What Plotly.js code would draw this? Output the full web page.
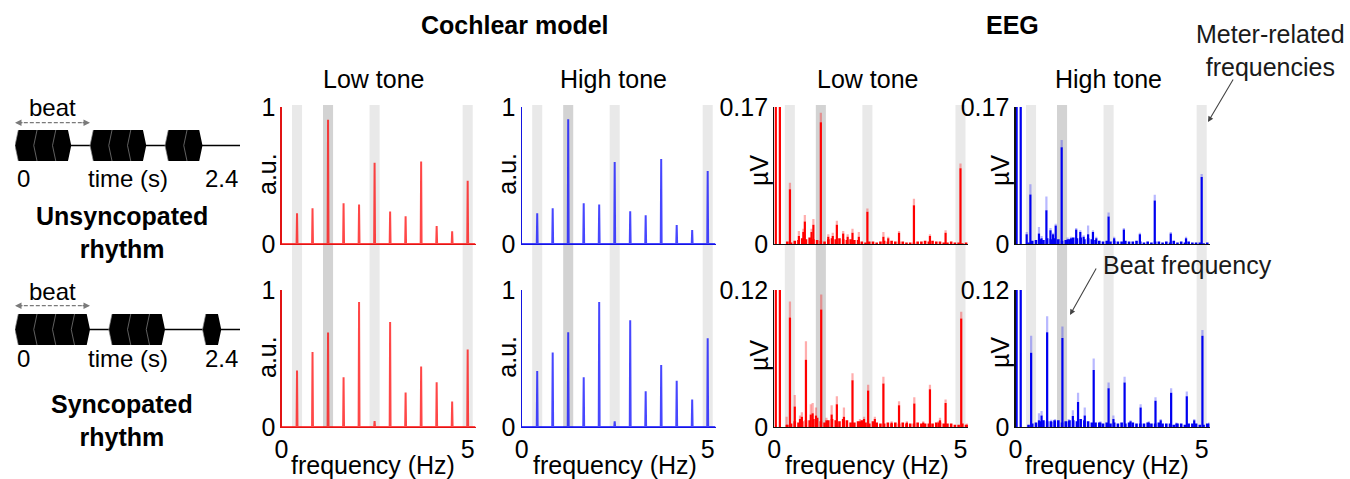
<!DOCTYPE html>
<html><head><meta charset="utf-8">
<script src="https://cdn.plot.ly/plotly-3.0.1.min.js"></script>
<style>html,body{margin:0;padding:0;background:#fff}</style>
</head><body><div id="chart" style="width:1350px;height:479px"></div>
<script>
// ---------------- DATA ----------------
const harmonicFreqs = [0.417,0.833,1.25,1.667,2.083,2.5,2.917,3.333,3.75,4.167,4.583,5.0];
const meterFreqs = [0.417,1.25,2.5,5.0];
const beatFreq = 1.25;
const bandHalfWidth = 0.135;

// cochlear model spectra (a.u.)
const cochUnsyncLow  = [0.224,0.261,0.907,0.298,0.288,0.593,0.237,0.202,0.602,0.132,0.093,0.461];
const cochUnsyncHigh = [0.224,0.261,0.910,0.298,0.288,0.598,0.239,0.210,0.620,0.139,0.102,0.532];
const cochSyncLow    = [0.412,0.547,0.689,0.363,0.912,0.044,0.767,0.252,0.441,0.326,0.186,0.566];
const cochSyncHigh   = [0.409,0.544,0.691,0.363,0.912,0.042,0.779,0.260,0.453,0.338,0.201,0.647];

// EEG spectra (µV): peak bins
const eegUnsyncLowFreq = [0.04,0.15,0.42,0.66,0.78,0.82,1.00,1.05,1.25,1.45,1.57,1.68,1.85,1.97,2.10,2.27,2.50,2.93,3.06,3.35,3.75,4.18,4.60,5.00];
const eegUnsyncLowAmp  = [0.17,0.17,0.068,0.010,0.015,0.028,0.015,0.024,0.151,0.009,0.010,0.024,0.013,0.009,0.014,0.009,0.040,0.009,0.007,0.014,0.048,0.010,0.014,0.094];
const eegUnsyncLowSem  = [0,0,0.008,0.006,0.004,0.008,0.004,0.007,0.012,0.003,0.004,0.005,0.003,0.003,0.005,0.006,0.004,0.006,0.002,0.002,0.008,0.002,0.003,0.006];

const eegUnsyncHighFreq = [0.03,0.14,0.30,0.40,0.63,0.70,0.83,0.94,1.01,1.08,1.24,1.40,1.49,1.63,1.74,1.83,1.95,2.08,2.17,2.50,2.65,2.91,3.34,3.74,4.17,4.58,5.00];
const eegUnsyncHighAmp  = [0.17,0.17,0.012,0.0615,0.013,0.007,0.042,0.017,0.012,0.023,0.120,0.006,0.007,0.018,0.015,0.009,0.012,0.015,0.007,0.034,0.007,0.018,0.012,0.054,0.013,0.007,0.083];
const eegUnsyncHighSem  = [0,0,0.003,0.0125,0.008,0.003,0.017,0.003,0.002,0.002,0.009,0.002,0.002,0.002,0.002,0.002,0.011,0.002,0.002,0.005,0.002,0.002,0.002,0.007,0.002,0.002,0.004];

const eegSyncLowFreq = [0.04,0.15,0.33,0.42,0.55,0.69,0.74,0.85,0.98,1.03,1.12,1.26,1.40,1.54,1.68,1.87,2.10,2.30,2.41,2.52,2.70,2.93,3.15,3.35,3.56,3.76,4.00,4.18,4.41,4.45,4.60,5.02,5.17];
const eegSyncLowAmp  = [0.12,0.12,0.002,0.096,0.018,0.007,0.009,0.059,0.011,0.012,0.010,0.103,0.006,0.011,0.020,0.009,0.041,0.005,0.007,0.032,0.007,0.038,0.004,0.019,0.004,0.0205,0.004,0.033,0.004,0.006,0.021,0.095,0.002];
const eegSyncLowSem  = [0,0,0.007,0.014,0.010,0.003,0.004,0.016,0.009,0.009,0.007,0.013,0.002,0.008,0.007,0.008,0.006,0.002,0.002,0.005,0.002,0.006,0.001,0.0035,0.001,0.0055,0.001,0.004,0.001,0.002,0.003,0.006,0.001];

const eegSyncHighFreq = [0.03,0.14,0.42,0.63,0.70,0.85,0.96,1.06,1.26,1.43,1.54,1.68,1.86,2.10,2.28,2.50,2.63,2.93,3.09,3.36,3.58,3.76,3.90,4.18,4.32,4.60,4.80,5.02,5.20];
const eegSyncHighAmp  = [0.12,0.12,0.065,0.006,0.010,0.083,0.0044,0.005,0.078,0.005,0.0097,0.022,0.010,0.050,0.004,0.034,0.007,0.039,0.005,0.017,0.004,0.023,0.006,0.030,0.003,0.027,0.006,0.080,0.003];
const eegSyncHighSem  = [0,0,0.015,0.006,0.004,0.014,0.002,0.002,0.010,0.002,0.005,0.008,0.007,0.010,0.001,0.005,0.003,0.005,0.001,0.003,0.001,0.003,0.001,0.004,0.001,0.004,0.001,0.005,0.001];

// EEG noise floor bins
const eegFloorFreq = [0.35,0.45,0.55,0.65,0.75,0.85,0.95,1.05,1.15,1.25,1.35,1.45,1.55,1.65,1.75,1.85,1.95,2.05,2.15,2.25,2.35,2.45,2.55,2.65,2.75,2.85,2.95,3.05,3.15,3.25,3.35,3.45,3.55,3.65,3.75,3.85,3.95,4.05,4.15,4.25,4.35,4.45,4.55,4.65,4.75,4.85,4.95,5.05,5.15];
const eegUnsyncLowFloor  = [.003,.002,.004,.005,.007,.006,.008,.006,.005,.004,.003,.006,.007,.006,.007,.006,.005,.006,.005,.005,.003,.002,.003,.003,.002,.003,.004,.003,.004,.003,.003,.003,.002,.002,.002,.003,.003,.004,.003,.004,.003,.003,.002,.002,.003,.002,.002,.001,.002];
const eegUnsyncHighFloor = [.002,.004,.005,.006,.005,.007,.006,.007,.006,.004,.005,.006,.008,.007,.008,.006,.007,.006,.005,.004,.003,.004,.003,.004,.003,.003,.004,.003,.003,.004,.003,.002,.003,.002,.003,.003,.002,.003,.002,.004,.002,.003,.002,.003,.002,.002,.002,.001,.002];
const eegSyncLowFloor    = [.002,.003,.005,.004,.005,.006,.006,.007,.008,.005,.004,.006,.007,.006,.005,.007,.006,.004,.004,.005,.006,.004,.003,.005,.004,.003,.003,.004,.003,.004,.003,.004,.003,.003,.003,.004,.003,.003,.003,.003,.004,.004,.003,.003,.003,.002,.002,.003,.002];
const eegSyncHighFloor   = [.002,.003,.004,.005,.006,.005,.005,.006,.006,.004,.005,.006,.006,.005,.007,.006,.005,.004,.004,.004,.003,.004,.003,.004,.003,.004,.003,.004,.004,.003,.003,.003,.004,.003,.003,.004,.003,.003,.003,.002,.003,.003,.002,.003,.003,.003,.002,.002,.003];

// rhythms (12 slots of 0.2 s over a 2.4 s cycle)
const cycleDuration = 2.4;
const slotDuration = 0.2;
const beatPeriod = 0.8;
const unsyncopatedPattern = [1,1,1,0,1,1,1,0,1,1,0,0];
const syncopatedPattern   = [1,1,1,1,0,1,1,1,0,0,1,0];

// ---------------- LAYOUT HELPERS ----------------
const W = 1350, H = 479;
const px = x => x / W, py = y => 1 - y / H;
const FONT = 'Liberation Sans, Arial, Helvetica, sans-serif';
const RED = 'rgba(255,0,0,0.72)', BLUE = 'rgba(0,0,255,0.72)';
const colX = [[281.5,475.5],[521.7,715.5],[774.3,968.3],[1015.5,1209.5]];
const rowY = [[107,244],[290,427]];
const XMAX = 5.21;

const layout = {
  width: W, height: H, margin: {l:0,r:0,t:0,b:0},
  paper_bgcolor: '#fff', plot_bgcolor: 'rgba(0,0,0,0)',
  showlegend: false, barmode: 'overlay',
  font: {family: FONT, size: 25, color: '#000'},
  shapes: [], annotations: []
};
const traces = [];

const panels = [
  {r:0,c:0,kind:'coch',vals:cochUnsyncLow,col:RED,axc:'rgb(225,20,20)',ymax:1,lab:'1'},
  {r:0,c:1,kind:'coch',vals:cochUnsyncHigh,col:BLUE,axc:'rgb(20,20,225)',ymax:1,lab:'1'},
  {r:0,c:2,kind:'eeg',f:eegUnsyncLowFreq,a:eegUnsyncLowAmp,s:eegUnsyncLowSem,fl:eegUnsyncLowFloor,col:'#ff0000',semc:'rgba(255,0,0,0.32)',ymax:0.17,lab:'0.17'},
  {r:0,c:3,kind:'eeg',f:eegUnsyncHighFreq,a:eegUnsyncHighAmp,s:eegUnsyncHighSem,fl:eegUnsyncHighFloor,col:'#0000f0',semc:'rgba(0,0,255,0.28)',ymax:0.17,lab:'0.17'},
  {r:1,c:0,kind:'coch',vals:cochSyncLow,col:RED,axc:'rgb(225,20,20)',ymax:1,lab:'1'},
  {r:1,c:1,kind:'coch',vals:cochSyncHigh,col:BLUE,axc:'rgb(20,20,225)',ymax:1,lab:'1'},
  {r:1,c:2,kind:'eeg',f:eegSyncLowFreq,a:eegSyncLowAmp,s:eegSyncLowSem,fl:eegSyncLowFloor,col:'#ff0000',semc:'rgba(255,0,0,0.32)',ymax:0.12,lab:'0.12'},
  {r:1,c:3,kind:'eeg',f:eegSyncHighFreq,a:eegSyncHighAmp,s:eegSyncHighSem,fl:eegSyncHighFloor,col:'#0000f0',semc:'rgba(0,0,255,0.28)',ymax:0.12,lab:'0.12'}
];

panels.forEach((p, i) => {
  const n = i + 1, xs = 'x' + n, ys = 'y' + n;
  const lc = p.kind === 'coch' ? p.axc : '#111';
  layout['xaxis' + n] = {
    domain: [px(colX[p.c][0]), px(colX[p.c][1])], range: [0, XMAX], anchor: ys,
    showline: true, linecolor: lc, linewidth: 1.2, ticks: '', showgrid: false, zeroline: false,
    tickvals: [0, 5], ticktext: ['0', '5'], showticklabels: p.r === 1,
    tickfont: {size: 25, family: FONT}, fixedrange: true
  };
  layout['yaxis' + n] = {
    domain: [py(rowY[p.r][1]), py(rowY[p.r][0])], range: [0, p.ymax], anchor: xs,
    showline: true, linecolor: lc, linewidth: 1.2, ticks: '', showgrid: false, zeroline: false,
    tickvals: [0, p.ymax], ticktext: ['0', p.lab], tickfont: {size: 25, family: FONT}, fixedrange: true
  };
  if (p.kind === 'coch') {
    const x = [0], y = [0], w = 0.012;
    harmonicFreqs.forEach((f, k) => { x.push(f - w, f, f + w); y.push(0, p.vals[k], 0); });
    x.push(XMAX); y.push(0);
    traces.push({type: 'scatter', mode: 'lines', x, y, xaxis: xs, yaxis: ys,
      line: {color: p.col, width: 2}, hoverinfo: 'skip'});
  } else {
    traces.push({type: 'bar', x: eegFloorFreq, y: p.fl, width: 0.07, xaxis: xs, yaxis: ys,
      marker: {color: p.col, line: {width: 0}}, hoverinfo: 'skip'});
    traces.push({type: 'bar', x: p.f, y: p.s, base: p.a, width: 0.06, xaxis: xs, yaxis: ys,
      marker: {color: p.semc, line: {width: 0}}, hoverinfo: 'skip'});
    traces.push({type: 'bar', x: p.f, y: p.a, width: 0.06, xaxis: xs, yaxis: ys,
      marker: {color: p.col, line: {width: 0}}, hoverinfo: 'skip'});
  }
});

// meter-related frequency bands spanning both rows
for (let c = 0; c < 4; c++) {
  meterFreqs.forEach(f => {
    layout.shapes.push({type: 'rect', xref: 'x' + (c + 1), yref: 'paper',
      x0: f - bandHalfWidth, x1: f + bandHalfWidth, y0: py(427), y1: py(105),
      fillcolor: f === beatFreq ? '#d3d3d3' : '#e9e9e9', line: {width: 0}, layer: 'below'});
  });
}

// ---------------- RHYTHM DIAGRAMS ----------------
const rhythmRows = [
  {pat: unsyncopatedPattern, n: 9, top: 130, bot: 161, arrowY: 122.7, beatY: 108, labY: 178, title: 'Unsyncopated<br>rhythm', titleY: 232},
  {pat: syncopatedPattern,   n: 10, top: 314, bot: 345, arrowY: 305.7, beatY: 291.5, labY: 358, title: 'Syncopated<br>rhythm', titleY: 420}
];
const ramp = 0.035;
rhythmRows.forEach(R => {
  const xs = 'x' + R.n, ys = 'y' + R.n;
  layout['xaxis' + R.n] = {domain: [px(15), px(240)], range: [0, cycleDuration], anchor: ys, visible: false, fixedrange: true};
  layout['yaxis' + R.n] = {domain: [py(R.bot), py(R.top)], range: [-1, 1], anchor: xs, visible: false, fixedrange: true};
  traces.push({type: 'scatter', mode: 'lines', x: [0, cycleDuration], y: [0, 0], xaxis: xs, yaxis: ys,
    line: {color: '#000', width: 1.5}, hoverinfo: 'skip'});
  const px_ = [], py_ = [], ex = [], ey = [];
  R.pat.forEach((on, i) => {
    if (!on) return;
    const t = i * slotDuration, nextOn = R.pat[i + 1] === 1;
    if (nextOn) {
      px_.push(t, t + ramp, t + slotDuration + ramp, t + slotDuration + ramp, t + ramp, t, null);
      py_.push(0, 1, 1, -1, -1, 0, null);
    } else {
      px_.push(t, t + ramp, t + slotDuration - ramp, t + slotDuration, t + slotDuration - ramp, t + ramp, t, null);
      py_.push(0, 1, 1, 0, -1, -1, 0, null);
    }
    ex.push(t + ramp, t, t + ramp, null); ey.push(1, 0, -1, null);
  });
  traces.push({type: 'scatter', mode: 'lines', x: px_, y: py_, fill: 'toself', fillcolor: '#000',
    line: {width: 0, color: '#000'}, xaxis: xs, yaxis: ys, hoverinfo: 'skip'});
  traces.push({type: 'scatter', mode: 'lines', x: ex, y: ey, line: {width: 0.7, color: '#8a8a8a'},
    xaxis: xs, yaxis: ys, hoverinfo: 'skip'});
  // dashed beat arrow
  layout.shapes.push({type: 'line', xref: xs, yref: 'paper', x0: 0.03, x1: beatPeriod - 0.03,
    y0: py(R.arrowY), y1: py(R.arrowY), line: {color: '#7a7a7a', width: 1.3, dash: '4px,2px'}});
  layout.annotations.push({xref: xs, yref: 'paper', x: 0, y: py(R.arrowY), ax: 9, ay: 0, text: '',
    showarrow: true, arrowhead: 2, arrowsize: 1, arrowwidth: 1.3, arrowcolor: '#7a7a7a'});
  layout.annotations.push({xref: xs, yref: 'paper', x: beatPeriod, y: py(R.arrowY), ax: -9, ay: 0, text: '',
    showarrow: true, arrowhead: 2, arrowsize: 1, arrowwidth: 1.3, arrowcolor: '#7a7a7a'});
  layout.annotations.push({xref: xs, yref: 'paper', x: beatPeriod / 2, y: py(R.beatY), text: 'beat',
    showarrow: false, font: {size: 24}, xanchor: 'center', yanchor: 'middle'});
  layout.annotations.push({xref: xs, yref: 'paper', x: 0, y: py(R.labY), text: '0',
    showarrow: false, font: {size: 24}, xanchor: 'left', yanchor: 'middle'});
  layout.annotations.push({xref: xs, yref: 'paper', x: cycleDuration / 2, y: py(R.labY), text: 'time (s)',
    showarrow: false, font: {size: 24}, xanchor: 'center', yanchor: 'middle'});
  layout.annotations.push({xref: xs, yref: 'paper', x: cycleDuration, y: py(R.labY), text: '2.4',
    showarrow: false, font: {size: 24}, xanchor: 'right', yanchor: 'middle'});
  layout.annotations.push({xref: 'paper', yref: 'paper', x: px(121.7), y: py(R.titleY), text: '<b>' + R.title.replace('<br>', '</b><br><b>') + '</b>',
    showarrow: false, font: {size: 25}, xanchor: 'center', yanchor: 'middle'});
});

// ---------------- TEXT ----------------
function txt(x, y, text, opts) {
  layout.annotations.push(Object.assign({xref: 'paper', yref: 'paper', x: px(x), y: py(y), text,
    showarrow: false, font: {size: 25}, xanchor: 'center', yanchor: 'middle'}, opts || {}));
}
txt(515, 25, '<b>Cochlear model</b>');
txt(1012, 25, '<b>EEG</b>');
txt(373.5, 79, 'Low tone');
txt(613, 79, 'High tone');
txt(867.5, 79, 'Low tone');
txt(1108, 79, 'High tone');
txt(267, 174, 'a.u.', {textangle: -90});
txt(267, 357, 'a.u.', {textangle: -90});
txt(506.7, 174, 'a.u.', {textangle: -90});
txt(506.7, 357, 'a.u.', {textangle: -90});
txt(759, 170, 'µV', {textangle: -90});
txt(759, 355, 'µV', {textangle: -90});
txt(1000, 171, 'µV', {textangle: -90});
txt(1000, 353, 'µV', {textangle: -90});
[373, 615, 866.7, 1106.7].forEach(x => txt(x, 465, 'frequency (Hz)'));
txt(1270, 50, 'Meter-related<br>frequencies', {font: {size: 25, color: '#1a1a1a'}});
txt(1101, 265, 'Beat frequency', {xanchor: 'left', font: {size: 25, color: '#1a1a1a'}});
layout.annotations.push({xref: 'paper', yref: 'paper', x: px(1208), y: py(122), ax: 26, ay: -44, text: '',
  showarrow: true, arrowhead: 2, arrowsize: 1, arrowwidth: 1.1, arrowcolor: '#444'});
layout.annotations.push({xref: 'paper', yref: 'paper', x: px(1070), y: py(315), ax: 27, ay: -48, text: '',
  showarrow: true, arrowhead: 2, arrowsize: 1, arrowwidth: 1.1, arrowcolor: '#444'});

Plotly.newPlot('chart', traces, layout, {displayModeBar: false, staticPlot: true});
</script></body></html>
